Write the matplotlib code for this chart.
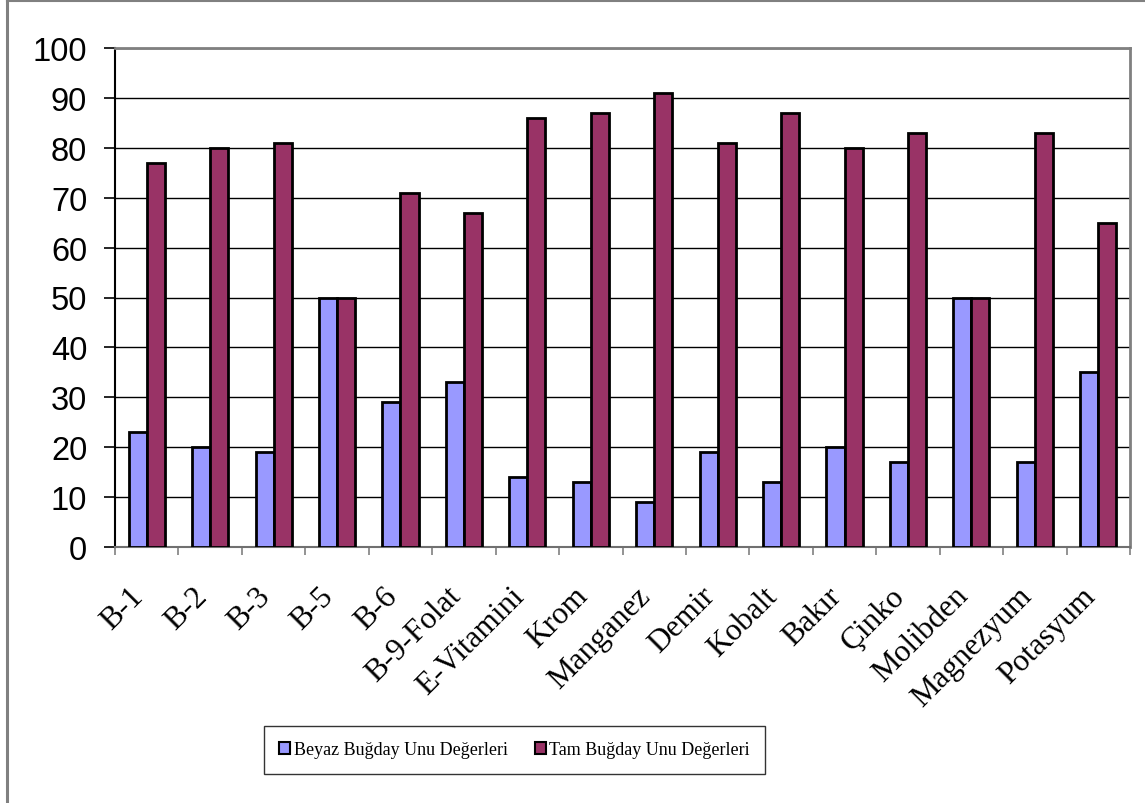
import numpy as np
import matplotlib
matplotlib.use("Agg")
import matplotlib.pyplot as plt
from matplotlib.lines import Line2D
from matplotlib.patches import Patch

categories = ["B-1", "B-2", "B-3", "B-5", "B-6", "B-9-Folat", "E-Vitamini", "Krom",
              "Manganez", "Demir", "Kobalt", "Bakır", "Çinko", "Molibden",
              "Magnezyum", "Potasyum"]
beyaz = [23, 20, 19, 50, 29, 33, 14, 13, 9, 19, 13, 20, 17, 50, 17, 35]
tam = [77, 80, 81, 50, 71, 67, 86, 87, 91, 81, 87, 80, 83, 50, 83, 65]
series_names = ["Beyaz Buğday Unu Değerleri", "Tam Buğday Unu Değerleri"]
y_ticks = list(range(0, 101, 10))

W, H = 1145, 804
fig = plt.figure(figsize=(W / 100, H / 100), dpi=100)
fig.patch.set_facecolor("white")

# outer chart border (left and top edges)
fig.add_artist(Line2D([7 / W, 7 / W], [0, 1 - 2 / H], color="#808080", lw=2.2))
fig.add_artist(Line2D([7 / W, 1], [1 - 2 / H, 1 - 2 / H], color="#808080", lw=1.5))

left, right, top, bottom = 115, 1130, 49, 548
ax = fig.add_axes([left / W, 1 - bottom / H, (right - left) / W, (bottom - top) / H])

x = np.arange(len(categories))
bw = 0.285
ax.bar(x - bw / 2, beyaz, bw, color="#9999FF", edgecolor="black", linewidth=2.0,
       zorder=3, label=series_names[0])
ax.bar(x + bw / 2, tam, bw, color="#993366", edgecolor="black", linewidth=2.0,
       zorder=3, label=series_names[1])

ax.set_xlim(-0.5, len(categories) - 0.5)
ax.set_ylim(0, 100)
ax.set_yticks(y_ticks)
ax.set_yticklabels([str(v) for v in y_ticks], fontsize=23.5, family="Liberation Sans")
ax.yaxis.grid(True, color="black", lw=1.0, zorder=0)
ax.set_axisbelow(True)
ax.tick_params(axis="y", length=8, width=1.2, color="black", pad=12)

ax.set_xticks(np.arange(-0.5, len(categories), 1.0))
ax.set_xticklabels([])
ax.tick_params(axis="x", length=6, width=1.2, color="#808080", direction="out")
for i, name in enumerate(categories):
    ax.text(i + 0.04, -6.8, name, rotation=45, ha="right", va="top",
            fontsize=22.5, family="Liberation Serif", transform=ax.transData)

ax.spines["left"].set_color("black")
ax.spines["left"].set_linewidth(1.5)
ax.spines["bottom"].set_color("#707070")
ax.spines["bottom"].set_linewidth(1.5)
ax.spines["top"].set_color("#808080")
ax.spines["top"].set_linewidth(2)
ax.spines["right"].set_color("#808080")
ax.spines["right"].set_linewidth(2)

handles = [Patch(facecolor="#9999FF", edgecolor="black", linewidth=1.5),
           Patch(facecolor="#993366", edgecolor="black", linewidth=1.5)]
leg = fig.legend(handles, series_names, loc="center",
                 bbox_to_anchor=((267 + 762) / 2 / W, 1 - 751 / H),
                 ncol=2, prop={"family": "Liberation Serif", "size": 13},
                 frameon=True, fancybox=False, shadow=False, handlelength=0.6,
                 handleheight=0.6, handletextpad=0.2, columnspacing=1.5,
                 borderpad=0.85, edgecolor="black")
leg.get_frame().set_linewidth(1.0)

fig.savefig("out.png", dpi=100, facecolor="white")
